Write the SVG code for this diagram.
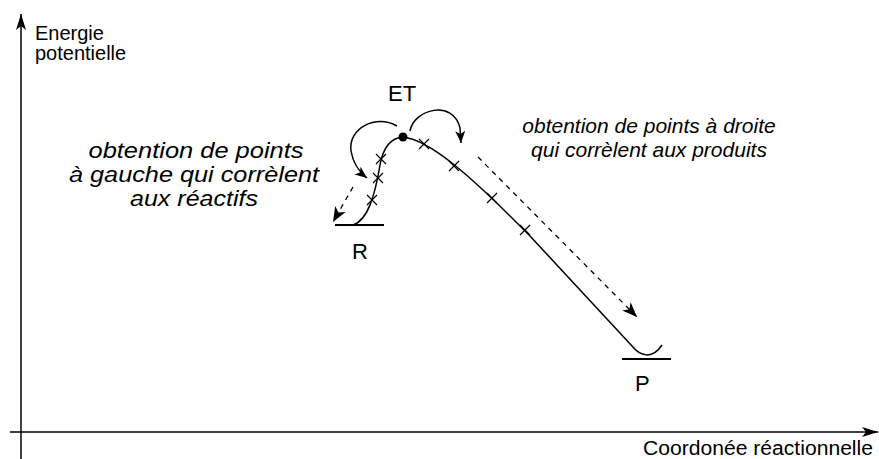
<svg xmlns="http://www.w3.org/2000/svg" width="879" height="459" viewBox="0 0 879 459">
<style>
text{font-family:"Liberation Sans",Arial,Helvetica,sans-serif;fill:#000}
.ax{font-size:20px}
.lbl{font-size:22px}
.it{font-size:21px;font-style:italic;text-anchor:middle}
.itl{font-size:22px;font-style:italic;text-anchor:middle}
.ln{fill:none;stroke:#000;stroke-width:1.5}
.lvl{stroke:#000;stroke-width:2}
.x{stroke:#000;stroke-width:1.2}
.dash{fill:none;stroke:#000;stroke-width:1.3;stroke-dasharray:5 5}
</style>
<defs>
<marker id="axh" viewBox="-16 -6 17 12" refX="0" refY="0" markerWidth="17" markerHeight="12" markerUnits="userSpaceOnUse" orient="auto">
<path d="M0,0 L-16,-5 L-12,0 L-16,5 Z" fill="#000"/>
</marker>
<marker id="bh" viewBox="-16 -7 17 14" refX="0" refY="0" markerWidth="17" markerHeight="14" markerUnits="userSpaceOnUse" orient="auto">
<path d="M0,0 L-15,-6 L-11,0 L-15,6 Z" fill="#000"/>
</marker>
<marker id="sh" viewBox="-13 -6 14 12" refX="0" refY="0" markerWidth="14" markerHeight="12" markerUnits="userSpaceOnUse" orient="auto">
<path d="M0,0 L-12,-5 L-9,0 L-12,5 Z" fill="#000"/>
</marker>
</defs>

<g id="axes">
<line class="ln" x1="21" y1="459" x2="21" y2="14" marker-end="url(#axh)"/>
<line class="ln" x1="10" y1="432" x2="878" y2="432" marker-end="url(#axh)"/>
<text class="ax" x="35" y="40">Energie</text>
<text class="ax" x="35" y="60">potentielle</text>
<text class="ax" x="643" y="455" textLength="230" lengthAdjust="spacingAndGlyphs">Coordonée réactionnelle</text>
</g>

<g id="R">
<line class="lvl" x1="335" y1="225" x2="384" y2="225"/>
<text class="lbl" x="352" y="259">R</text>
</g>

<g id="P">
<line class="lvl" x1="622" y1="359" x2="671" y2="359"/>
<text class="lbl" x="635" y="391">P</text>
</g>

<g id="ET">
<circle cx="403" cy="137" r="4.5" fill="#000"/>
<text class="lbl" x="388" y="101">ET</text>
</g>

<g id="profile">
<path class="ln" d="M353,225 C368,220 375,195 380,165 C383,148 390,138 403,137 C430,140 470,175 530,236 L632,346 C640,356 652,360 662,345"/>
<g class="x">
<path d="M367,195 L377,205 M377,195 L367,205"/>
<path d="M373,173 L383,183 M383,173 L373,183"/>
<path d="M376,154 L386,164 M386,154 L376,164"/>
<path d="M419,139 L429,149 M429,139 L419,149"/>
<path d="M449,161 L459,171 M459,161 L449,171"/>
<path d="M487,193 L497,203 M497,193 L487,203"/>
<path d="M520,225 L530,235 M530,225 L520,235"/>
</g>
</g>

<g id="left-label">
<text class="itl" x="196" y="158" textLength="215" lengthAdjust="spacingAndGlyphs">obtention de points</text>
<text class="itl" x="194" y="182" textLength="250" lengthAdjust="spacingAndGlyphs">à gauche qui corrèlent</text>
<text class="itl" x="194" y="206" textLength="128" lengthAdjust="spacingAndGlyphs">aux réactifs</text>
</g>

<g id="right-label">
<text class="it" x="649" y="133">obtention de points à droite</text>
<text class="it" x="649" y="157">qui corrèlent aux produits</text>
</g>

<g id="connectors">
<path class="ln" d="M397,126 C376,114 348,128 351,151 C353,163 358,171 367,178" marker-end="url(#sh)"/>
<path class="ln" d="M410,131 C414,109 453,99 460,128 L461,143" marker-end="url(#sh)"/>
<path class="dash" d="M353,187 L333,222" marker-end="url(#bh)"/>
<path class="dash" d="M478,157 L637,317" marker-end="url(#bh)"/>
</g>
</svg>
